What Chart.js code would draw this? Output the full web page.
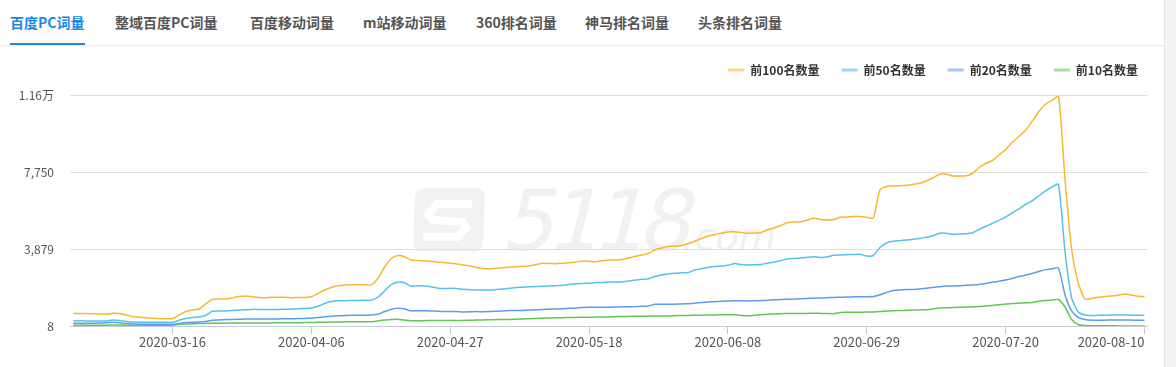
<!DOCTYPE html>
<html>
<head>
<meta charset="utf-8">
<script src="https://cdn.jsdelivr.net/npm/chart.js@4.4.1/dist/chart.umd.min.js"></script>
<style>
    body { margin: 0; background: #fff; font-family: 'Microsoft YaHei', 'Noto Sans CJK SC', sans-serif; }
    #page { position: relative; width: 1176px; height: 367px; overflow: hidden; }
    .tab { position: absolute; top: 13px; font-size: 14px; font-weight: bold; color: #555; line-height: 18px; white-space: nowrap; }
    .tab.active { color: #1b86ec; }
    #tabLine { position: absolute; left: 0; top: 45px; width: 1164px; height: 1px; background: #ececec; }
    #tabBar { position: absolute; left: 10px; top: 43px; width: 75px; height: 2px; background: #1b86ec; }
    #side { position: absolute; left: 1164px; top: 0; width: 12px; height: 367px; background: #f3f3f3; border-left: 1px solid #e6e6e6; }
    #mark { position: absolute; left: 0; top: 0; }
    #mark text { font-family: 'DejaVu Sans', sans-serif; fill: #f1f1f1; }
    #chartBox { position: absolute; left: 0; top: 0; width: 1160px; height: 367px; }
</style>
</head>
<body>
<div id="page">
    <svg id="mark" width="1160" height="367">
        <path d="M430 188 L476 188 Q484 188 485 196 L483 243 Q482 252 472 252 L422 252 Q413 252 413 243 L415 196 Q417 188 430 188 Z" fill="#f2f2f2"/>
        <polyline points="472,204 437,204 428,214 432,220 463,222 466,228 457,237 423,237" fill="none" stroke="#fff" stroke-width="8"/>
        <g transform="translate(500,250) skewX(-14)">
            <text x="0" y="0" font-size="84" letter-spacing="-8">5118</text>
            <text x="180" y="0" font-size="38">.com</text>
        </g>
    </svg>
    <div class="tab active" style="left:10px">百度PC词量</div>
    <div class="tab" style="left:115px">整域百度PC词量</div>
    <div class="tab" style="left:250px">百度移动词量</div>
    <div class="tab" style="left:363px">m站移动词量</div>
    <div class="tab" style="left:476px">360排名词量</div>
    <div class="tab" style="left:585px">神马排名词量</div>
    <div class="tab" style="left:698px">头条排名词量</div>
    <div id="tabLine"></div>
    <div id="tabBar"></div>
    <div id="side"></div>
    <div id="chartBox"><canvas id="myChart" width="1160" height="367"></canvas></div>
</div>
<script>
const seriesNames = ['前100名数量', '前50名数量', '前20名数量', '前10名数量'];
const seriesColors = ['#f5b92e', '#52c2ee', '#5d9cf0', '#62c653'];
const legendColors = ['#f8d98c', '#93daf3', '#a6c7f6', '#a9df9f'];

const firstDay = '2020-03-01';
const dayCount = 163;
const xTickLabels = ['2020-03-16', '2020-04-06', '2020-04-27', '2020-05-18', '2020-06-08', '2020-06-29', '2020-07-20', '2020-08-10'];
const yTickValues = [8, 3879, 7750, 11621];
const yTickLabels = ['8', '3,879', '7,750', '1.16万'];

const top100 = [
    648, 638, 633, 623, 613, 597, 648, 638, 562, 477,
    461, 421, 396, 381, 376, 376, 562, 738, 814, 864,
    1116, 1343, 1368, 1368, 1419, 1494, 1519, 1494, 1444, 1434,
    1454, 1454, 1454, 1434, 1444, 1444, 1479, 1645, 1822, 1948,
    2033, 2074, 2089, 2089, 2089, 2074, 2376, 2930, 3383, 3550,
    3509, 3333, 3308, 3293, 3273, 3232, 3207, 3167, 3132, 3081,
    3031, 2955, 2905, 2895, 2915, 2940, 2980, 2996, 3016, 3041,
    3106, 3167, 3157, 3147, 3172, 3197, 3232, 3283, 3268, 3247,
    3293, 3333, 3333, 3353, 3434, 3519, 3585, 3661, 3847, 3938,
    4008, 4028, 4064, 4164, 4280, 4416, 4527, 4618, 4683, 4744,
    4759, 4719, 4678, 4693, 4719, 4855, 4945, 5071, 5212, 5248,
    5263, 5338, 5434, 5373, 5348, 5373, 5484, 5499, 5525, 5525,
    5484, 5449, 6860, 7036, 7061, 7071, 7096, 7137, 7197, 7313,
    7464, 7651, 7666, 7565, 7565, 7575, 7691, 7993, 8195, 8346,
    8623, 8900, 9253, 9555, 9857, 10311, 10789, 11167, 11369, 11621,
    7363, 3837, 2174, 1368, 1393, 1454, 1494, 1519, 1560, 1620,
    1570, 1509, 1484
];
const top50 = [
    275, 270, 265, 260, 260, 260, 310, 285, 235, 210,
    199, 194, 194, 194, 194, 194, 295, 386, 436, 461,
    537, 749, 764, 764, 784, 814, 824, 844, 844, 834,
    834, 844, 849, 864, 875, 895, 915, 1000, 1142, 1237,
    1278, 1283, 1293, 1298, 1303, 1303, 1444, 1746, 2074, 2215,
    2200, 2023, 2033, 2023, 1988, 1922, 1892, 1912, 1897, 1857,
    1832, 1822, 1822, 1822, 1852, 1872, 1907, 1948, 1958, 1983,
    1993, 2008, 2023, 2038, 2063, 2099, 2134, 2154, 2159, 2200,
    2205, 2225, 2225, 2240, 2275, 2325, 2361, 2391, 2502, 2577,
    2628, 2668, 2688, 2708, 2829, 2890, 2955, 3001, 3031, 3066,
    3152, 3106, 3081, 3091, 3106, 3172, 3232, 3308, 3383, 3409,
    3434, 3469, 3499, 3459, 3484, 3570, 3585, 3600, 3610, 3620,
    3535, 3560, 3963, 4190, 4275, 4305, 4341, 4376, 4416, 4482,
    4552, 4678, 4683, 4628, 4643, 4658, 4703, 4870, 5031, 5172,
    5333, 5489, 5701, 5902, 6129, 6306, 6557, 6809, 7011, 7147,
    3736, 1419, 713, 562, 537, 547, 552, 562, 562, 562,
    557, 547, 542
];
const top20 = [
    144, 144, 144, 144, 159, 169, 194, 169, 129, 114,
    99, 94, 94, 94, 94, 94, 134, 179, 194, 204,
    235, 295, 310, 330, 341, 351, 356, 361, 361, 361,
    361, 366, 371, 376, 381, 391, 401, 436, 471, 502,
    522, 537, 547, 547, 552, 562, 597, 723, 839, 900,
    875, 774, 774, 779, 769, 754, 738, 744, 733, 718,
    723, 733, 728, 733, 754, 769, 784, 789, 794, 809,
    824, 839, 854, 864, 875, 900, 915, 935, 950, 950,
    950, 955, 965, 975, 980, 985, 1000, 1016, 1106, 1106,
    1101, 1106, 1121, 1131, 1157, 1197, 1217, 1232, 1252, 1273,
    1283, 1278, 1268, 1278, 1288, 1303, 1328, 1348, 1353, 1363,
    1383, 1393, 1409, 1419, 1429, 1449, 1454, 1469, 1479, 1484,
    1484, 1494, 1580, 1696, 1796, 1822, 1842, 1852, 1872, 1912,
    1948, 1988, 2018, 2023, 2033, 2058, 2074, 2099, 2149, 2215,
    2265, 2325, 2401, 2502, 2577, 2653, 2754, 2849, 2890, 2930,
    1570, 764, 436, 335, 300, 295, 300, 310, 310, 310,
    305, 300, 295
];
const top10 = [
    43, 43, 43, 43, 48, 48, 58, 53, 43, 38,
    33, 33, 33, 33, 38, 48, 99, 109, 119, 129,
    139, 149, 149, 152, 154, 154, 157, 159, 159, 162,
    164, 169, 172, 174, 177, 179, 184, 194, 199, 204,
    210, 215, 217, 220, 222, 225, 260, 310, 330, 346,
    310, 275, 275, 278, 280, 280, 283, 285, 288, 290,
    295, 310, 315, 320, 330, 335, 341, 351, 361, 376,
    386, 401, 411, 421, 426, 436, 441, 451, 451, 456,
    456, 461, 477, 487, 492, 497, 502, 502, 512, 512,
    517, 527, 537, 542, 552, 552, 562, 567, 572, 577,
    577, 542, 522, 547, 577, 602, 613, 628, 638, 643,
    633, 638, 653, 643, 638, 628, 693, 698, 703, 703,
    708, 713, 733, 764, 779, 789, 799, 809, 819, 829,
    864, 915, 925, 940, 950, 965, 975, 985, 1016, 1046,
    1076, 1116, 1136, 1157, 1177, 1197, 1252, 1293, 1313, 1343,
    965, 335, 84, 28, 23, 18, 18, 16, 13, 13,
    10, 8, 8
];

const axisColor = '#c3ccd8';

function buildDates() {
    let dates = [];
    let d = new Date(firstDay + 'T00:00:00Z');
    for (let i = 0; i < dayCount; i++) {
        dates.push(d.toISOString().slice(0, 10));
        d.setUTCDate(d.getUTCDate() + 1);
    }
    return dates;
}

function isShown(index) {
    return xTickLabels.includes(categories[index]);
}

const categories = buildDates();
const allSeries = [top100, top50, top20, top10];

Chart.defaults.font.family = "'Microsoft YaHei', 'Noto Sans CJK SC', sans-serif";

function makeDatasets() {
    let datasets = [];
    for (let i = 0; i < allSeries.length; i++) {
        datasets.push({
            label: seriesNames[i],
            data: allSeries[i],
            borderColor: seriesColors[i],
            backgroundColor: legendColors[i],
            borderWidth: 1.5,
            pointRadius: 0,
            tension: 0.2,
            fill: false
        });
    }
    return datasets;
}

const ctx = document.getElementById('myChart').getContext('2d');
const myChart = new Chart(ctx, {
    type: 'line',
    data: {
        labels: categories,
        datasets: makeDatasets()
    },
    options: {
        responsive: false,
        animation: false,
        layout: { padding: { top: 42, left: 0, right: 0, bottom: 0 } },
        plugins: {
            tooltip: { enabled: false },
            // empty title used only as a gap between legend and plot
            title: {
                display: true,
                text: '',
                weight: 500,
                font: { size: 1, lineHeight: 1 },
                padding: { top: 0, bottom: 8.5 }
            },
            legend: {
                position: 'top',
                align: 'end',
                labels: {
                    boxWidth: 16,
                    boxHeight: 3,
                    padding: 22,
                    color: '#333',
                    font: { size: 12, weight: 'bold' },
                    generateLabels: function (chart) {
                        let items = Chart.defaults.plugins.legend.labels.generateLabels(chart);
                        items.forEach(function (item, i) {
                            item.fillStyle = legendColors[i];
                            item.strokeStyle = legendColors[i];
                            item.lineWidth = 0;
                        });
                        return items;
                    }
                }
            }
        },
        scales: {
            x: {
                type: 'category',
                offset: true,
                grid: {
                    offset: false,
                    drawOnChartArea: false,
                    drawTicks: true,
                    tickLength: 8,
                    color: function (c) { return isShown(c.index) ? axisColor : 'rgba(0,0,0,0)'; },
                    tickColor: function (c) { return isShown(c.index) ? axisColor : 'rgba(0,0,0,0)'; }
                },
                border: { display: true, color: axisColor, width: 1 },
                ticks: {
                    autoSkip: false,
                    maxRotation: 0,
                    align: 'inner',
                    padding: 0,
                    color: '#555',
                    font: { size: 13 },
                    callback: function (value, index) {
                        return isShown(index) ? categories[index] : '';
                    }
                },
                afterFit: function (scale) {
                    scale.paddingRight = 12.3;
                    scale.height = 41;
                }
            },
            y: {
                min: 8,
                max: 11621,
                afterBuildTicks: function (scale) {
                    scale.ticks = yTickValues.map(function (v) { return { value: v }; });
                },
                grid: { color: '#dedede', drawTicks: false },
                border: { display: false },
                ticks: {
                    padding: 16,
                    color: '#555',
                    font: { size: 12 },
                    callback: function (value, index) {
                        return yTickLabels[index];
                    }
                },
                afterFit: function (scale) {
                    scale.width = 70;
                    scale.paddingTop = 95.5;
                }
            }
        }
    }
});
</script>
</body>
</html>
